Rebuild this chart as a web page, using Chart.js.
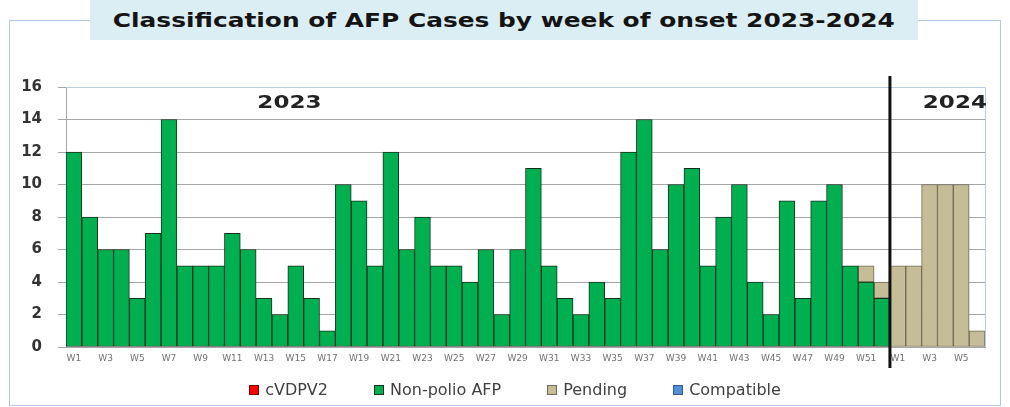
<!DOCTYPE html>
<html>
<head>
<meta charset="utf-8">
<title>AFP cases by week of onset</title>
<script src="https://cdn.jsdelivr.net/npm/chart.js@4.4.1/dist/chart.umd.min.js"></script>
<style>
    html, body { margin: 0; padding: 0; background: #fff; }
    #wrap { position: relative; width: 1010px; height: 407px; overflow: hidden; }
    #frame {
        position: absolute; left: 9px; top: 20px; width: 992px; height: 386px;
        border: 1.5px solid #b3c8e6; box-sizing: border-box;
    }
    #titleBox {
        position: absolute; left: 90px; top: 0; width: 828px; height: 40px;
        background: #dbeef4; display: flex; align-items: center; justify-content: center; z-index: 2;
    }
    #titleText {
        font-family: 'DejaVu Sans', sans-serif; font-weight: bold; font-size: 19px;
        color: #141414; white-space: nowrap; display: inline-block; transform-origin: center;
    }
    #chart { position: absolute; left: 0; top: 0; z-index: 1; }
    #legend {
        position: absolute; left: 0; top: 380px; width: 1030px; z-index: 3;
        display: flex; justify-content: center; align-items: center;
        font-family: 'DejaVu Sans', sans-serif; font-size: 16px; color: #404040;
    }
    .legend-item { display: flex; align-items: center; margin: 0 23px; }
    .legend-box { width: 10px; height: 10px; margin-right: 6px; box-sizing: border-box; }
</style>
</head>
<body>
<div id="wrap">
    <div id="frame"></div>
    <div id="titleBox"><span id="titleText">Classification of AFP Cases by week of onset 2023-2024</span></div>
    <canvas id="chart" width="1010" height="407"></canvas>
    <div id="legend"></div>
</div>
<script>
// Week labels: 2023 W1..W52 then 2024 W1..W6
const weekLabels = [
    'W1', 'W2', 'W3', 'W4', 'W5', 'W6', 'W7', 'W8', 'W9', 'W10',
    'W11', 'W12', 'W13', 'W14', 'W15', 'W16', 'W17', 'W18', 'W19', 'W20',
    'W21', 'W22', 'W23', 'W24', 'W25', 'W26', 'W27', 'W28', 'W29', 'W30',
    'W31', 'W32', 'W33', 'W34', 'W35', 'W36', 'W37', 'W38', 'W39', 'W40',
    'W41', 'W42', 'W43', 'W44', 'W45', 'W46', 'W47', 'W48', 'W49', 'W50',
    'W51', 'W52',
    'W1', 'W2', 'W3', 'W4', 'W5', 'W6'
];

const cvdpv2Cases = [];

const nonPolioCases = [
    12, 8, 6, 6, 3, 7, 14, 5, 5, 5,
    7, 6, 3, 2, 5, 3, 1, 10, 9, 5,
    12, 6, 8, 5, 5, 4, 6, 2, 6, 11,
    5, 3, 2, 4, 3, 12, 14, 6, 10, 11,
    5, 8, 10, 4, 2, 9, 3, 9, 10, 5,
    4, 3,
    null, null, null, null, null, null
];

const pendingCases = [
    null, null, null, null, null, null, null, null, null, null,
    null, null, null, null, null, null, null, null, null, null,
    null, null, null, null, null, null, null, null, null, null,
    null, null, null, null, null, null, null, null, null, null,
    null, null, null, null, null, null, null, null, null, null,
    1, 1,
    5, 5, 10, 10, 10, 1
];

const compatibleCases = [];

const yTicks = [0, 2, 4, 6, 8, 10, 12, 14, 16];

// Stretch the title so it fills the box like the original
const titleSpan = document.getElementById('titleText');
titleSpan.style.transform = 'scaleX(' + (782 / titleSpan.getBoundingClientRect().width) + ')';

// Only draw a border on bars that actually have a value
function borderIfValue(ctx) {
    return ctx.raw ? 1 : 0;
}

// Year captions, the year divider and the light blue plot border
const yearMarks = {
    id: 'yearMarks',
    afterDatasetsDraw(chart) {
        const { ctx, chartArea } = chart;
        const x = chart.scales.x;
        const y = chart.scales.y;

        ctx.save();
        ctx.strokeStyle = '#b9cde5';
        ctx.lineWidth = 1;
        ctx.beginPath();
        ctx.moveTo(chartArea.left, Math.round(chartArea.top) + 0.5);
        ctx.lineTo(Math.round(chartArea.right) + 0.5, Math.round(chartArea.top) + 0.5);
        ctx.lineTo(Math.round(chartArea.right) + 0.5, chartArea.bottom);
        ctx.stroke();

        // divider between 2023 W52 and 2024 W1
        const xd = (x.getPixelForValue(51) + x.getPixelForValue(52)) / 2;
        ctx.strokeStyle = '#111';
        ctx.lineWidth = 3;
        ctx.beginPath();
        ctx.moveTo(xd, chartArea.top - 11);
        ctx.lineTo(xd, chartArea.bottom + 21);
        ctx.stroke();

        ctx.fillStyle = '#222';
        ctx.font = 'bold 18px "DejaVu Sans"';
        ctx.textAlign = 'center';
        ctx.textBaseline = 'middle';
        [['2023', 13.6], ['2024', 55.6]].forEach(([text, idx]) => {
            ctx.save();
            ctx.translate(x.getPixelForValue(idx), y.getPixelForValue(15.0));
            ctx.scale(1.28, 1);
            ctx.fillText(text, 0, 0);
            ctx.restore();
        });
        ctx.restore();
    }
};

const chart = new Chart(document.getElementById('chart'), {
    type: 'bar',
    data: {
        labels: weekLabels,
        datasets: [
            {
                label: 'cVDPV2',
                data: cvdpv2Cases,
                backgroundColor: '#ff0000',
                borderColor: '#7a0000',
                borderWidth: borderIfValue
            },
            {
                label: 'Non-polio AFP',
                data: nonPolioCases,
                backgroundColor: '#00b050',
                borderColor: '#14301c',
                borderWidth: borderIfValue
            },
            {
                label: 'Pending',
                data: pendingCases,
                backgroundColor: '#c4bd97',
                borderColor: '#6f6a52',
                borderWidth: borderIfValue
            },
            {
                label: 'Compatible',
                data: compatibleCases,
                backgroundColor: '#558ed5',
                borderColor: '#2f5c94',
                borderWidth: borderIfValue
            }
        ]
    },
    options: {
        responsive: false,
        devicePixelRatio: 1,
        animation: false,
        datasets: {
            bar: {
                categoryPercentage: 1,
                barPercentage: 1,
                borderSkipped: false
            }
        },
        layout: {
            padding: { left: 0, right: 25, top: 87, bottom: 35 }
        },
        plugins: {
            legend: { display: false },
            tooltip: { enabled: false }
        },
        scales: {
            x: {
                stacked: true,
                grid: { display: false, drawTicks: false },
                border: { display: true, color: '#a6a6a6' },
                ticks: {
                    autoSkip: false,
                    maxRotation: 0,
                    minRotation: 0,
                    padding: 6,
                    color: '#707070',
                    font: { family: 'DejaVu Sans', size: 9 },
                    callback: function (value, index) {
                        return index % 2 === 0 ? weekLabels[index] : '';
                    }
                },
                afterFit: function (scale) {
                    scale.height = 25;
                }
            },
            y: {
                stacked: true,
                min: yTicks[0],
                max: yTicks[yTicks.length - 1],
                afterBuildTicks: function (scale) {
                    scale.ticks = yTicks.map(v => ({ value: v }));
                },
                grid: { color: '#a6a6a6', tickLength: 8 },
                border: { display: true, color: '#a6a6a6' },
                ticks: {
                    padding: 16,
                    color: '#333',
                    font: { family: 'DejaVu Sans', size: 15, weight: 'bold' }
                },
                afterFit: function (scale) {
                    scale.width = 66;
                }
            }
        }
    },
    plugins: [yearMarks]
});

// HTML legend built from the datasets
function buildLegend(chart) {
    const container = document.getElementById('legend');
    container.innerHTML = '';
    chart.data.datasets.forEach(ds => {
        const item = document.createElement('div');
        item.className = 'legend-item';
        const box = document.createElement('span');
        box.className = 'legend-box';
        box.style.backgroundColor = ds.backgroundColor;
        box.style.border = '1px solid ' + ds.borderColor;
        const text = document.createElement('span');
        text.textContent = ds.label;
        item.appendChild(box);
        item.appendChild(text);
        container.appendChild(item);
    });
}
buildLegend(chart);
</script>
</body>
</html>
